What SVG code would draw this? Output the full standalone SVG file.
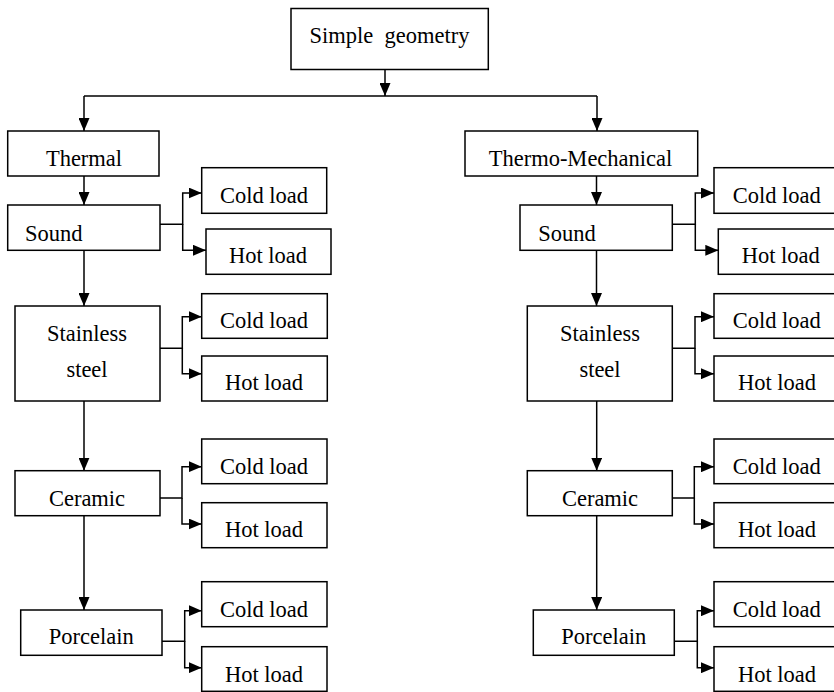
<svg xmlns="http://www.w3.org/2000/svg" width="834" height="692" viewBox="0 0 834 692">
<style>
.box{fill:#fff;stroke:#000;stroke-width:1.5}
.t{font-family:"Liberation Serif","Times New Roman",serif;font-size:22.5px;fill:#000}
.c{text-anchor:middle}
.ln{fill:none;stroke:#000;stroke-width:1.5}
</style>
<defs>
<marker id="ah" viewBox="0 0 13 11" refX="13" refY="5.5" markerWidth="13" markerHeight="11" orient="auto" markerUnits="userSpaceOnUse">
<path d="M0,0 L13,5.5 L0,11 Z" fill="#000"/>
</marker>
</defs>
<rect width="834" height="692" fill="#fff"/>
<g id="connectors">
<path class="ln" d="M385,69.5 V96" marker-end="url(#ah)"/>
<path class="ln" d="M84,96 H597"/>
<path class="ln" d="M84,96 V131" marker-end="url(#ah)"/>
<path class="ln" d="M597,96 V131" marker-end="url(#ah)"/>
<path class="ln" d="M84,176 V205" marker-end="url(#ah)"/>
<path class="ln" d="M84,250.3 V306" marker-end="url(#ah)"/>
<path class="ln" d="M84,401 V470.7" marker-end="url(#ah)"/>
<path class="ln" d="M84,515.7 V610" marker-end="url(#ah)"/>
<path class="ln" d="M160,224.3 H182.7 V193 H201.7" marker-end="url(#ah)"/>
<path class="ln" d="M182.7,224.3 V250.3 H206" marker-end="url(#ah)"/>
<path class="ln" d="M160,348.3 H182.3 V316.7 H201.7" marker-end="url(#ah)"/>
<path class="ln" d="M182.3,348.3 V373.7 H201.7" marker-end="url(#ah)"/>
<path class="ln" d="M160,498 H182 V466.7 H201.7" marker-end="url(#ah)"/>
<path class="ln" d="M182,498 V524 H201.7" marker-end="url(#ah)"/>
<path class="ln" d="M162,641.3 H184.7 V610.7 H201.7" marker-end="url(#ah)"/>
<path class="ln" d="M184.7,641.3 V667.7 H201.7" marker-end="url(#ah)"/>
<path class="ln" d="M596.5,176 V205" marker-end="url(#ah)"/>
<path class="ln" d="M596.5,250.3 V306" marker-end="url(#ah)"/>
<path class="ln" d="M596.7,401 V470.7" marker-end="url(#ah)"/>
<path class="ln" d="M596.7,515.7 V610" marker-end="url(#ah)"/>
<path class="ln" d="M672.3,224.3 H695.3 V193 H714" marker-end="url(#ah)"/>
<path class="ln" d="M695.3,224.3 V250.3 H718.3" marker-end="url(#ah)"/>
<path class="ln" d="M672.3,348.3 H695 V316.7 H714" marker-end="url(#ah)"/>
<path class="ln" d="M695,348.3 V373.7 H714" marker-end="url(#ah)"/>
<path class="ln" d="M672.3,498 H694.3 V466.7 H714" marker-end="url(#ah)"/>
<path class="ln" d="M694.3,498 V524 H714" marker-end="url(#ah)"/>
<path class="ln" d="M674.3,641.3 H697.3 V610.7 H714" marker-end="url(#ah)"/>
<path class="ln" d="M697.3,641.3 V667.7 H714" marker-end="url(#ah)"/>
</g>
<g id="simple-geometry"><rect class="box" x="291" y="8.5" width="197.3" height="61"/><text class="t c" x="389.5" y="43" xml:space="preserve">Simple  geometry</text></g>
<g id="thermal"><rect class="box" x="7.7" y="131" width="151.3" height="45"/><text class="t c" x="84" y="165.7">Thermal</text></g>
<g id="thermo-mechanical"><rect class="box" x="465" y="131" width="232.7" height="45"/><text class="t c" x="580.5" y="166">Thermo-Mechanical</text></g>
<g id="sound-l"><rect class="box" x="7.7" y="205" width="152.3" height="45.3"/><text class="t" x="25" y="240.7">Sound</text></g>
<g id="stainless-l"><rect class="box" x="15" y="306" width="145" height="95"/><text class="t c" x="87" y="340.7">Stainless</text><text class="t c" x="87" y="376.7">steel</text></g>
<g id="ceramic-l"><rect class="box" x="15" y="470.7" width="145" height="45"/><text class="t c" x="87" y="505.7">Ceramic</text></g>
<g id="porcelain-l"><rect class="box" x="20.7" y="610" width="141.3" height="45.3"/><text class="t c" x="91.3" y="644.3">Porcelain</text></g>
<g id="sound-l-cold"><rect class="box" x="201.7" y="167.7" width="125" height="45.6"/><text class="t c" x="264" y="202.7">Cold load</text></g>
<g id="sound-l-hot"><rect class="box" x="206" y="229" width="125" height="45.3"/><text class="t c" x="268" y="263.3">Hot load</text></g>
<g id="stainless-l-cold"><rect class="box" x="201.7" y="293.7" width="125.6" height="44.6"/><text class="t c" x="264" y="328.3">Cold load</text></g>
<g id="stainless-l-hot"><rect class="box" x="201.7" y="356" width="125.6" height="45"/><text class="t c" x="264" y="390">Hot load</text></g>
<g id="ceramic-l-cold"><rect class="box" x="201.7" y="439" width="125.3" height="44.7"/><text class="t c" x="264" y="473.7">Cold load</text></g>
<g id="ceramic-l-hot"><rect class="box" x="201.7" y="502.7" width="125.3" height="45"/><text class="t c" x="264" y="537.3">Hot load</text></g>
<g id="porcelain-l-cold"><rect class="box" x="201.7" y="581.7" width="125.3" height="45"/><text class="t c" x="264" y="616.7">Cold load</text></g>
<g id="porcelain-l-hot"><rect class="box" x="201.7" y="646.7" width="125.3" height="44.6"/><text class="t c" x="264" y="682">Hot load</text></g>
<g id="sound-r"><rect class="box" x="520" y="205" width="152.3" height="45.3"/><text class="t" x="538.3" y="240.7">Sound</text></g>
<g id="stainless-r"><rect class="box" x="527.3" y="306" width="145" height="95"/><text class="t c" x="600" y="340.7">Stainless</text><text class="t c" x="600" y="376.7">steel</text></g>
<g id="ceramic-r"><rect class="box" x="527.3" y="470.7" width="145" height="45"/><text class="t c" x="600" y="505.7">Ceramic</text></g>
<g id="porcelain-r"><rect class="box" x="533.3" y="610" width="141" height="45.3"/><text class="t c" x="603.7" y="644.3">Porcelain</text></g>
<g id="sound-r-cold"><rect class="box" x="714" y="167.7" width="125" height="45.6"/><text class="t c" x="776.7" y="202.7">Cold load</text></g>
<g id="sound-r-hot"><rect class="box" x="718.3" y="229" width="125" height="45.3"/><text class="t c" x="780.8" y="263.3">Hot load</text></g>
<g id="stainless-r-cold"><rect class="box" x="714" y="293.7" width="125" height="44.6"/><text class="t c" x="776.7" y="328.3">Cold load</text></g>
<g id="stainless-r-hot"><rect class="box" x="714" y="356" width="125" height="45"/><text class="t c" x="777" y="390">Hot load</text></g>
<g id="ceramic-r-cold"><rect class="box" x="714" y="439" width="125" height="44.7"/><text class="t c" x="776.7" y="473.7">Cold load</text></g>
<g id="ceramic-r-hot"><rect class="box" x="714" y="502.7" width="125" height="45"/><text class="t c" x="777" y="537.3">Hot load</text></g>
<g id="porcelain-r-cold"><rect class="box" x="714" y="581.7" width="125" height="45"/><text class="t c" x="776.7" y="616.7">Cold load</text></g>
<g id="porcelain-r-hot"><rect class="box" x="714" y="646.7" width="125" height="44.6"/><text class="t c" x="777" y="682">Hot load</text></g>
</svg>
